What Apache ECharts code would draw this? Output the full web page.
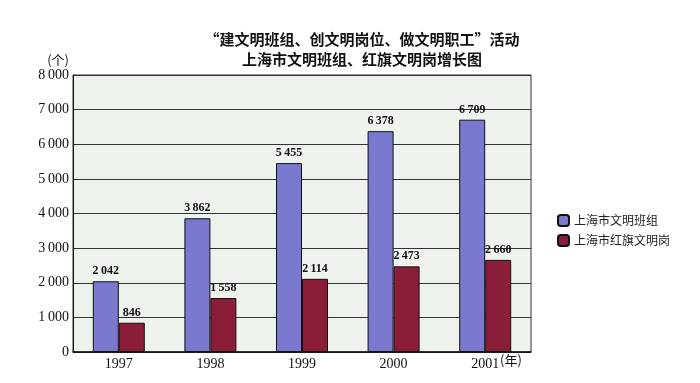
<!DOCTYPE html>
<html><head><meta charset="utf-8">
<script src="https://cdn.jsdelivr.net/npm/echarts@6/dist/echarts.min.js"></script>
<style>html,body{margin:0;padding:0;background:#fff}#c{width:700px;height:383px}</style>
</head><body><div id="c"></div>
<script>
var years = ['1997', '1998', '1999', '2000', '2001'];
var seriesNames = ['上海市文明班组', '上海市红旗文明岗'];
var civilizedTeams = [2042, 3862, 5455, 6378, 6709];
var redFlagPosts = [846, 1558, 2114, 2473, 2660];
var titleText = '“建文明班组、创文明岗位、做文明职工”活动\n上海市文明班组、红旗文明岗增长图';

function fmt(v) {
  var s = String(v);
  if (v >= 1000) s = s.slice(0, s.length - 3) + '\u2009' + s.slice(-3);
  return s;
}
var serif = '"Liberation Serif", "DejaVu Serif", serif';
var cjk = '"Noto Sans CJK SC", sans-serif';
var chart = echarts.init(document.getElementById('c'));
chart.setOption({
  animation: false,
  backgroundColor: '#fff',
  title: {
    text: titleText, left: 362, top: 29, textAlign: 'center', padding: 0,
    textStyle: { fontFamily: cjk, fontSize: 15, fontWeight: 'bold', color: '#111', lineHeight: 20 }
  },
  legend: {
    orient: 'vertical', left: 552, top: 209, itemWidth: 11, itemHeight: 11, itemGap: 7,
    textStyle: { fontFamily: cjk, fontSize: 12, color: '#222' },
    data: seriesNames
  },
  grid: { left: 73, right: 169, top: 75, bottom: 31, show: true, backgroundColor: '#eef3ee', borderColor: '#333', borderWidth: 1 },
  xAxis: {
    type: 'category', data: years,
    axisLine: { lineStyle: { color: '#111', width: 1.5 } },
    axisTick: { inside: true, length: 4, lineStyle: { color: '#333' } },
    axisLabel: { fontFamily: serif, fontSize: 14, color: '#111', margin: 5 }
  },
  yAxis: {
    type: 'value', min: 0, max: 8000, interval: 1000,
    name: '(个)', nameLocation: 'end', nameGap: 8,
    nameTextStyle: { fontFamily: cjk, fontSize: 13, color: '#111', align: 'right', padding: [0, 4, 0, 0] },
    axisLine: { show: true, lineStyle: { color: '#111', width: 1 } },
    axisTick: { show: false },
    splitLine: { lineStyle: { color: '#333', width: 1 } },
    axisLabel: { fontFamily: serif, fontSize: 14, color: '#111', margin: 4, formatter: fmt }
  },
  graphic: [{
    type: 'text', left: 500, top: 354,
    style: { text: '(年)', font: '13px "Noto Sans CJK SC", sans-serif', fill: '#111' }
  }],
  series: [{
    name: seriesNames[0], type: 'bar', data: civilizedTeams, barWidth: 26, barGap: '0%',
    itemStyle: { color: '#7b79cf', borderColor: '#111', borderWidth: 1 },
    label: { show: true, position: 'top', distance: 4, formatter: function (p) { return fmt(p.value); },
      fontFamily: serif, fontSize: 12, fontWeight: 'bold', color: '#111' }
  }, {
    name: seriesNames[1], type: 'bar', data: redFlagPosts, barWidth: 26,
    itemStyle: { color: '#8c1d3a', borderColor: '#111', borderWidth: 1 },
    label: { show: true, position: 'top', distance: 4, formatter: function (p) { return fmt(p.value); },
      fontFamily: serif, fontSize: 12, fontWeight: 'bold', color: '#111' }
  }]
});
</script></body></html>
